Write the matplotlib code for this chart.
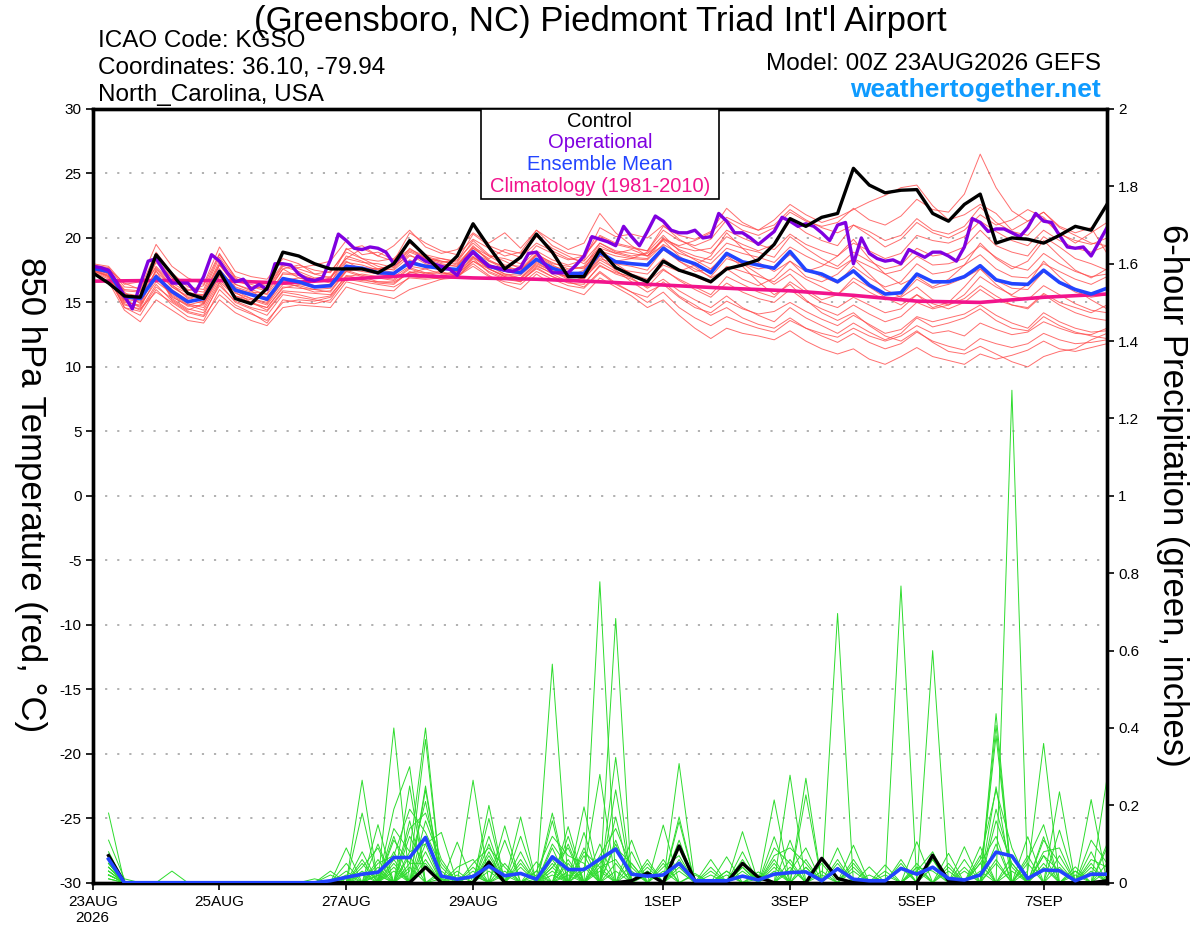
import matplotlib
matplotlib.use('Agg')
import matplotlib.pyplot as plt
import numpy as np
from matplotlib.patches import Rectangle

plt.rcParams['font.family'] = ['Liberation Sans', 'DejaVu Sans']
plt.rcParams['axes.unicode_minus'] = False

# ---------------- time axes (hours from 00Z 23AUG2026) ----------------
hours6 = np.arange(0, 385, 6)        # 65 points, 6-hourly
hours3 = np.arange(0, 385, 3)        # 129 points, 3-hourly (operational)
precip_hours = hours6[1:]            # 6-h accumulations end at 6h ... 384h
clim_hours = np.arange(0, 385, 24)   # daily climatology points

tick_hours = [0, 48, 96, 144, 216, 264, 312, 360]
tick_labels = ['23AUG\n2026', '25AUG', '27AUG', '29AUG', '1SEP', '3SEP', '5SEP', '7SEP']
temp_ticks = [-30, -25, -20, -15, -10, -5, 0, 5, 10, 15, 20, 25, 30]
precip_ticks = [0, 0.2, 0.4, 0.6, 0.8, 1.0, 1.2, 1.4, 1.6, 1.8, 2.0]
precip_tick_labels = ['0', '0.2', '0.4', '0.6', '0.8', '1', '1.2', '1.4', '1.6', '1.8', '2']

# ---------------- 850 hPa temperature (deg C) ----------------
control_temp = [17.3, 16.5, 15.5, 15.4, 18.7, 17.2, 15.7, 15.3,
                17.4, 15.3, 14.9, 16.1, 18.9, 18.6, 18.0, 17.6,
                17.6, 17.6, 17.3, 18.0, 19.8, 18.6, 17.4, 18.6,
                21.1, 19.3, 17.6, 18.5, 20.3, 18.9, 17.0, 17.0,
                19.1, 17.7, 17.1, 16.6, 18.2, 17.5, 17.1, 16.6,
                17.6, 17.9, 18.3, 19.5, 21.5, 20.9, 21.6, 21.9,
                25.4, 24.1, 23.5, 23.7, 23.75, 21.9, 21.3, 22.6,
                23.4, 19.6, 20.0, 19.9, 19.6, 20.2, 20.9, 20.6, 22.6]

mean_temp = [17.65, 17.4, 15.45, 15.3, 17.0, 15.85, 15.05, 15.3,
             17.4, 15.95, 15.6, 15.25, 16.85, 16.6, 16.2, 16.3,
             17.8, 17.65, 17.3, 17.25, 18.1, 17.8, 17.65, 17.55,
             18.95, 17.8, 17.5, 17.3, 18.35, 17.65, 17.25, 17.25,
             18.85, 18.15, 18.0, 17.9, 19.2, 18.4, 18.0, 17.3,
             18.8, 18.15, 17.9, 17.65, 18.95, 17.5, 17.2, 16.6,
             17.45, 16.35, 15.65, 15.75, 17.2, 16.6, 16.6, 17.0,
             17.85, 16.75, 16.45, 16.4, 17.5, 16.55, 16.0, 15.65, 16.1]

operational_temp = [17.8, 17.7, 17.5, 16.6, 15.5, 14.5, 16.4, 18.2, 18.4, 17.4,
                    16.5, 16.5, 16.5, 15.8, 17.0, 18.7, 18.2, 17.3, 16.6, 16.8,
                    16.0, 16.4, 16.0, 18.0, 18.0, 17.9, 17.2, 16.8, 16.7, 16.9,
                    18.3, 20.3, 19.8, 19.2, 19.1, 19.3, 19.2, 18.9, 18.0, 18.7,
                    17.7, 18.6, 18.2, 18.0, 17.8, 17.6, 17.1, 18.3, 18.9, 18.3,
                    17.8, 17.7, 17.5, 17.4, 17.7, 18.8, 18.9, 18.0, 17.3, 17.3,
                    17.3, 17.9, 18.6, 20.1, 19.9, 19.7, 19.4, 20.9, 20.1, 19.4,
                    20.5, 21.7, 21.3, 20.6, 20.4, 20.4, 20.6, 20.0, 20.1, 21.9,
                    21.3, 20.4, 20.4, 20.0, 19.5, 20.0, 20.5, 21.6, 21.3, 20.9,
                    21.1, 20.9, 20.4, 19.8, 21.0, 21.2, 18.0, 20.0, 18.8, 18.4,
                    18.2, 18.3, 18.0, 19.1, 18.8, 18.5, 18.9, 18.9, 18.6, 18.2,
                    19.3, 21.5, 21.2, 20.5, 20.7, 20.7, 20.4, 20.1, 20.8, 21.9,
                    21.3, 21.2, 20.2, 19.3, 19.2, 19.3, 18.6, 19.7, 20.8]

climatology_temp = [16.65, 16.7, 16.7, 16.5, 16.8, 17.1, 16.9, 16.8, 16.6,
                    16.35, 16.1, 15.9, 15.55, 15.1, 15.0, 15.4, 15.65]

temp_m01 = [17.9, 17.6, 15.8, 14.9, 17.6, 16.2, 15.4, 15.0,
            17.9, 16.4, 15.9, 15.1, 17.3, 17.2, 16.8, 16.5,
            18.6, 18.2, 17.6, 17.9, 19.0, 18.5, 18.1, 18.3,
            19.6, 18.6, 18.4, 18.0, 19.4, 18.8, 18.3, 18.6,
            20.1, 19.5, 19.2, 19.0, 20.6, 19.8, 19.4, 19.9,
            21.4, 20.6, 20.2, 20.8, 22.0, 21.3, 20.9, 21.2,
            22.3, 21.4, 21.0, 21.7, 23.0, 22.2, 22.0, 23.4,
            26.5, 23.9, 22.1, 21.3, 22.0, 20.8, 20.2, 19.6, 19.4]
temp_m02 = [17.7, 17.2, 15.2, 15.6, 18.1, 16.9, 16.0, 15.8,
            18.5, 16.8, 16.2, 15.9, 17.6, 17.9, 17.5, 17.3,
            19.1, 19.4, 18.6, 18.2, 20.4, 19.6, 19.0, 18.7,
            19.9, 19.2, 18.6, 18.9, 20.6, 19.4, 18.8, 18.6,
            20.2, 19.6, 19.3, 19.0, 20.9, 20.2, 19.9, 20.5,
            22.3, 21.2, 20.6, 21.4, 22.6, 21.8, 21.2, 21.6,
            22.2, 22.8, 23.3, 23.9, 24.1, 22.5, 21.4, 21.8,
            22.6, 21.9, 20.6, 21.3, 22.0, 20.9, 20.4, 20.8, 18.8]
temp_m03 = [17.8, 17.5, 16.0, 15.9, 17.7, 16.3, 15.7, 15.6,
            18.2, 16.6, 16.4, 16.0, 17.8, 17.4, 16.9, 17.0,
            18.4, 18.1, 18.0, 17.7, 19.2, 18.4, 18.2, 18.0,
            19.3, 18.6, 17.9, 17.8, 19.0, 18.3, 17.9, 18.3,
            20.8, 20.1, 20.3, 20.0, 21.0, 19.9, 19.2, 18.8,
            20.1, 19.5, 19.0, 19.5, 21.3, 20.4, 19.8, 19.4,
            21.0, 20.5, 19.8, 20.2, 21.5, 20.6, 20.3, 20.9,
            22.4, 21.2, 20.5, 20.2, 21.5, 20.3, 19.8, 19.5, 20.0]
temp_m04 = [17.6, 17.0, 15.4, 15.1, 18.3, 16.4, 15.3, 15.6,
            18.0, 16.2, 15.8, 15.7, 17.6, 16.9, 16.7, 16.8,
            19.2, 18.4, 17.8, 17.5, 18.6, 18.3, 18.4, 18.1,
            19.8, 18.7, 18.2, 17.6, 18.8, 18.0, 17.8, 17.6,
            19.4, 18.8, 18.5, 18.4, 19.9, 19.1, 18.6, 18.3,
            19.6, 19.2, 18.9, 18.5, 20.1, 19.2, 18.4, 17.8,
            18.9, 18.2, 17.6, 17.9, 19.2, 18.6, 18.8, 19.3,
            20.6, 19.4, 18.9, 18.6, 20.1, 19.3, 18.4, 18.0, 17.5]
temp_m05 = [17.5, 17.3, 15.0, 14.8, 16.6, 15.7, 14.9, 14.6,
            16.8, 15.5, 15.2, 14.8, 16.4, 16.3, 16.0, 16.1,
            17.6, 17.4, 17.2, 17.0, 17.8, 17.6, 17.2, 17.4,
            18.8, 17.9, 17.2, 17.1, 18.2, 17.5, 16.9, 17.0,
            18.4, 18.0, 17.8, 17.5, 19.1, 18.2, 17.6, 17.0,
            18.4, 18.0, 17.6, 17.8, 18.7, 17.6, 17.0, 16.5,
            17.8, 16.9, 16.2, 16.6, 18.0, 17.2, 17.4, 17.9,
            18.7, 17.6, 17.0, 16.9, 18.0, 17.4, 16.8, 16.4, 17.0]
temp_m06 = [17.4, 17.1, 14.6, 14.3, 16.2, 15.3, 14.5, 14.2,
            16.3, 15.1, 14.6, 14.3, 15.8, 15.6, 15.3, 15.5,
            17.1, 16.8, 16.5, 16.4, 17.4, 17.0, 16.8, 16.9,
            18.4, 17.3, 16.8, 16.6, 17.7, 17.0, 16.5, 16.4,
            17.9, 17.2, 16.8, 16.2, 17.5, 16.8, 16.2, 15.6,
            17.0, 16.4, 15.8, 15.4, 16.6, 15.8, 15.0, 14.6,
            15.4, 14.8, 14.2, 14.5, 15.6, 14.9, 14.5, 15.0,
            16.0, 15.2, 14.8, 14.6, 15.7, 15.0, 14.6, 14.2, 14.8]
temp_m07 = [17.6, 17.4, 15.6, 15.2, 17.1, 16.0, 15.2, 14.9,
            17.1, 15.8, 15.0, 14.6, 16.2, 16.1, 16.0, 15.8,
            17.4, 17.7, 17.6, 17.3, 18.0, 17.9, 17.8, 17.5,
            18.6, 17.6, 17.0, 16.8, 17.9, 17.2, 16.6, 16.2,
            17.4, 16.5, 15.8, 15.0, 15.8, 14.6, 13.8, 13.2,
            13.9, 13.4, 13.0, 12.7, 13.6, 13.0, 12.6, 12.3,
            13.0, 12.4, 12.0, 12.4, 13.2, 12.6, 12.8, 12.4,
            13.4, 12.9, 12.5, 12.7, 13.5, 13.0, 12.6, 12.5, 13.0]
temp_m08 = [17.4, 16.8, 14.8, 14.5, 15.8, 15.0, 14.2, 13.9,
            15.6, 14.6, 14.1, 13.6, 15.0, 15.2, 15.1, 15.4,
            16.8, 16.6, 16.4, 16.2, 16.9, 16.8, 16.9, 17.0,
            18.0, 17.1, 16.4, 16.0, 17.2, 16.4, 16.0, 15.6,
            16.9, 16.2, 15.5, 14.6, 15.2, 14.0, 13.0, 12.2,
            13.0, 12.6, 12.4, 12.1, 12.8, 12.0, 11.4, 11.0,
            11.4, 10.6, 10.2, 10.8, 11.5, 10.8, 10.5, 10.2,
            11.0, 10.6, 10.9, 11.3, 12.0, 11.4, 11.2, 11.5, 11.8]
temp_m09 = [17.7, 17.2, 15.2, 14.6, 16.9, 15.6, 14.8, 14.4,
            16.6, 15.5, 15.0, 14.4, 15.9, 15.8, 15.7, 15.6,
            17.0, 17.2, 17.0, 16.8, 17.7, 17.3, 17.0, 16.9,
            18.2, 17.4, 16.9, 16.7, 17.6, 17.0, 16.6, 16.9,
            18.1, 17.4, 16.9, 16.1, 16.8, 15.9, 15.2, 14.6,
            15.5, 14.6, 14.0, 13.5, 14.6, 13.8, 13.2, 12.6,
            13.4, 12.7, 12.1, 12.6, 13.8, 13.1, 13.4, 13.8,
            14.5, 13.6, 13.0, 12.8, 13.9, 13.2, 12.7, 12.4, 12.2]
temp_m10 = [17.8, 17.4, 15.7, 15.5, 17.4, 16.2, 15.5, 15.4,
            17.6, 16.1, 15.7, 15.4, 16.9, 16.7, 16.3, 16.4,
            17.9, 17.6, 17.2, 17.3, 18.3, 17.8, 17.5, 17.6,
            19.0, 18.0, 17.4, 17.2, 18.4, 17.7, 17.1, 16.8,
            18.3, 17.6, 17.4, 17.2, 18.4, 17.5, 17.0, 16.5,
            17.8, 17.4, 17.0, 16.6, 17.6, 16.8, 16.2, 15.6,
            16.6, 15.8, 15.2, 15.5, 16.8, 16.1, 16.4, 16.9,
            17.6, 16.7, 16.1, 16.0, 17.4, 16.5, 15.8, 15.4, 15.6]
temp_m11 = [17.9, 17.7, 16.2, 16.1, 18.9, 17.3, 16.2, 16.0,
            18.7, 17.0, 16.6, 16.3, 18.0, 17.6, 17.2, 17.4,
            18.9, 18.4, 18.2, 18.4, 19.6, 18.7, 18.4, 18.2,
            20.3, 19.4, 18.9, 18.5, 19.6, 19.0, 18.4, 18.2,
            19.6, 19.0, 18.8, 18.6, 20.0, 19.3, 19.0, 19.2,
            20.6, 20.0, 19.5, 19.1, 20.3, 19.5, 19.0, 18.6,
            19.6, 19.0, 18.4, 18.8, 20.2, 19.8, 19.6, 20.1,
            21.3, 20.5, 19.8, 19.4, 20.6, 19.8, 19.2, 18.9, 19.4]
temp_m12 = [17.5, 17.0, 14.9, 14.4, 16.4, 15.1, 14.3, 14.0,
            16.5, 15.0, 14.5, 14.0, 15.6, 15.4, 15.2, 15.0,
            16.6, 16.3, 16.0, 15.9, 17.0, 16.9, 17.1, 17.3,
            18.5, 17.8, 17.2, 16.9, 18.0, 17.4, 17.0, 17.3,
            18.6, 17.5, 16.6, 15.8, 16.4, 15.4, 14.6, 14.2,
            15.1, 14.5, 14.1, 14.3, 15.0, 14.3, 13.7, 13.2,
            14.0, 13.3, 12.6, 12.9, 13.9, 13.5, 13.8, 14.1,
            14.8, 14.0, 13.4, 13.0, 14.2, 13.5, 13.0, 12.7, 12.8]
temp_m13 = [17.6, 17.3, 15.3, 15.0, 17.2, 15.4, 14.8, 15.1,
            17.6, 15.7, 15.3, 14.9, 16.7, 16.9, 16.6, 16.9,
            18.2, 17.5, 17.6, 17.8, 18.7, 18.0, 17.6, 17.4,
            18.9, 18.2, 17.8, 17.5, 18.6, 17.8, 17.5, 17.8,
            19.6, 18.9, 18.6, 18.8, 19.8, 18.6, 17.8, 16.9,
            17.6, 16.8, 16.3, 16.9, 18.2, 17.0, 16.6, 17.2,
            18.4, 17.2, 16.0, 15.4, 16.2, 15.2, 14.8, 15.6,
            17.0, 16.2, 15.6, 16.4, 18.2, 17.0, 16.0, 15.2, 14.5]
temp_m14 = [17.7, 17.5, 15.6, 15.3, 17.0, 15.5, 14.7, 14.8,
            17.0, 15.9, 15.3, 15.0, 16.6, 16.2, 15.8, 15.9,
            17.5, 17.1, 16.9, 16.7, 17.6, 17.2, 17.3, 17.1,
            18.5, 17.6, 17.1, 16.9, 18.1, 17.4, 16.8, 16.5,
            17.8, 17.3, 17.0, 16.6, 17.6, 16.7, 16.0, 15.4,
            16.5, 15.8, 15.3, 15.0, 16.0, 15.1, 14.5, 14.0,
            14.8, 14.1, 13.5, 13.9, 15.0, 14.5, 14.8, 15.3,
            16.3, 15.5, 14.8, 14.5, 15.6, 14.8, 14.2, 13.8, 13.6]
temp_m15 = [17.8, 17.5, 15.9, 15.8, 17.8, 16.5, 15.8, 15.5,
            17.9, 16.4, 16.0, 15.6, 17.2, 17.1, 16.8, 16.6,
            18.1, 17.9, 17.5, 17.6, 18.9, 18.4, 18.0, 17.8,
            19.2, 18.3, 17.7, 17.5, 18.7, 18.1, 17.6, 17.7,
            19.0, 18.6, 18.4, 18.3, 19.5, 18.8, 18.4, 18.0,
            19.2, 18.8, 18.5, 18.1, 19.3, 18.6, 18.0, 17.6,
            18.4, 17.8, 17.2, 17.5, 18.6, 17.9, 18.0, 18.4,
            19.4, 18.5, 17.8, 17.5, 18.8, 18.0, 17.4, 17.0, 17.2]
temp_m16 = [17.5, 16.9, 14.6, 14.0, 16.0, 14.8, 13.9, 13.6,
            16.0, 14.8, 14.2, 13.4, 15.2, 15.0, 14.9, 15.2,
            16.9, 16.7, 16.6, 16.5, 17.3, 17.3, 17.4, 17.0,
            17.8, 17.0, 16.6, 16.4, 17.4, 16.8, 16.3, 16.1,
            17.3, 16.4, 15.8, 15.4, 16.6, 15.5, 14.8, 14.0,
            14.6, 13.8, 13.3, 13.0, 13.8, 13.0, 12.4, 11.9,
            12.6, 11.9, 11.4, 11.8, 12.7, 12.0, 11.6, 11.3,
            12.2, 11.8, 11.5, 11.8, 12.6, 12.1, 11.8, 11.9, 12.1]
temp_m17 = [18.0, 17.8, 16.4, 16.6, 19.5, 17.8, 16.9, 16.4,
            19.3, 17.4, 17.0, 16.8, 18.4, 18.0, 17.2, 16.9,
            18.4, 19.2, 18.6, 19.4, 20.6, 19.3, 18.8, 19.1,
            20.4, 19.6, 20.4, 19.2, 20.6, 19.8, 19.1, 19.6,
            21.9, 20.4, 19.4, 18.6, 19.4, 18.2, 17.4, 17.6,
            18.8, 18.0, 17.2, 16.4, 17.2, 16.0, 15.2, 15.6,
            16.9, 16.2, 15.4, 14.8, 15.6, 14.6, 15.0, 16.2,
            17.6, 16.4, 15.5, 15.2, 16.3, 15.6, 14.9, 14.4, 14.2]
temp_m18 = [17.3, 16.6, 14.4, 13.5, 15.2, 14.4, 13.6, 13.4,
            15.2, 14.2, 13.6, 13.2, 14.6, 14.8, 14.7, 14.6,
            16.2, 15.8, 15.6, 15.3, 16.0, 16.4, 16.8, 17.2,
            18.2, 17.6, 17.0, 16.6, 17.8, 17.3, 17.0, 17.5,
            19.2, 18.8, 19.1, 18.6, 19.9, 19.4, 19.8, 20.4,
            21.6, 21.0, 20.6, 21.0, 22.2, 21.4, 20.8, 20.4,
            21.0, 20.2, 19.3, 19.9, 21.2, 20.4, 20.0, 20.6,
            21.8, 21.0, 21.4, 22.2, 21.6, 20.4, 19.6, 20.4, 21.2]
temp_m19 = [17.6, 17.1, 15.1, 14.7, 17.5, 15.2, 14.4, 14.9,
            17.2, 15.3, 14.9, 14.6, 16.1, 16.4, 16.2, 16.2,
            17.4, 17.0, 16.6, 16.6, 17.3, 17.6, 17.9, 17.8,
            19.4, 18.2, 17.6, 17.4, 18.7, 17.9, 17.3, 16.9,
            18.6, 18.2, 18.4, 18.9, 20.2, 19.0, 18.3, 17.6,
            18.6, 17.8, 16.6, 15.6, 16.4, 15.2, 14.2, 13.6,
            14.2, 13.2, 12.4, 12.0, 12.8, 11.9, 11.2, 11.0,
            11.6, 11.0, 10.4, 10.0, 10.8, 11.2, 11.4, 12.1, 12.6]
temp_m20 = [17.9, 17.6, 16.5, 16.0, 18.4, 16.9, 15.9, 16.3,
            18.8, 16.9, 16.2, 16.1, 17.9, 17.7, 17.9, 18.2,
            19.8, 18.7, 18.9, 18.3, 19.1, 18.6, 18.2, 17.9,
            19.2, 18.4, 19.1, 18.8, 20.1, 19.2, 18.6, 18.0,
            19.2, 18.0, 17.2, 16.8, 17.9, 17.4, 17.9, 18.6,
            20.4, 19.2, 18.1, 17.4, 18.2, 17.4, 17.8, 18.6,
            19.9, 18.4, 17.2, 16.4, 17.0, 16.2, 16.8, 17.9,
            19.6, 18.4, 17.6, 18.2, 19.8, 18.6, 17.5, 16.9, 17.6]

# ---------------- 6-hour precipitation (inches), 6h .. 384h ----------------
control_precip = [.07, 0, 0, 0, 0, 0, 0, 0,
                  0, 0, 0, 0, 0, 0, 0, 0,
                  0, 0, 0, 0, .04, 0, 0, 0,
                  .053, 0, 0, 0, 0, 0, 0, 0,
                  0, .005, .025, 0, .095, .005, 0, 0,
                  .05, .014, 0, 0, 0, .063, .011, 0,
                  0, 0, 0, 0, .071, .005, 0, 0,
                  0, 0, 0, 0, 0, 0, 0, .005]
mean_precip = [.061, 0, 0, 0, 0, 0, 0, 0,
               0, 0, 0, 0, 0, 0, .005, .014,
               .022, .027, .065, .065, .117, .017, .009, .016,
               .043, .018, .024, .009, .067, .034, .034, .061,
               .087, .022, .017, .02, .05, .005, .005, .005,
               .017, .007, .022, .026, .028, .005, .036, .009,
               .005, .005, .037, .022, .04, .011, .007, .02,
               .079, .069, .011, .033, .031, .005, .022, .022]

precip_m01 = [.18, 0, 0, 0, 0, 0, 0, 0,
              0, 0, 0, 0, 0, 0, 0, 0,
              .02, 0, .06, 0, .16, .05, 0, 0,
              .08, 0, 0, .01, 0, .12, 0, .10,
              0, .05, 0, 0, .17, 0, 0, 0,
              0, .01, 0, 0, .227, 0, 0, 0,
              0, 0, 0, .05, 0, 0, 0, 0,
              .437, 0, 0, 0, .07, 0, 0, 0]
precip_m02 = [.11, .01, 0, 0, 0, 0, 0, 0,
              0, 0, 0, 0, 0, 0, 0, 0,
              .08, 0, .03, 0, .08, 0, 0, .04,
              0, .02, 0, 0, .18, 0, .04, 0,
              .683, 0, 0, .03, 0, 0, 0, .03,
              0, 0, .04, 0, 0, 0, 0, .097,
              0, 0, 0, 0, 0, .05, 0, 0,
              .05, 0, 0, .07, 0, 0, 0, .10]
precip_m03 = [.08, 0, 0, 0, 0, 0, 0, 0,
              0, 0, 0, 0, 0, 0, .03, 0,
              0, .03, 0, .08, .40, 0, 0, 0,
              .03, 0, 0, .054, 0, .02, 0, 0,
              .05, 0, 0, .06, 0, 0, 0, 0,
              .05, 0, 0, 0, 0, .03, 0, 0,
              0, 0, .767, 0, 0, 0, 0, .05,
              0, 0, .07, 0, 0, 0, .03, 0]
precip_m04 = [.07, 0, 0, 0, 0, 0, 0, 0,
              0, 0, 0, 0, 0, 0, 0, .09,
              0, .15, 0, .04, 0, .02, 0, 0,
              .10, 0, 0, 0, .05, 0, .196, 0,
              0, 0, .05, 0, 0, 0, .06, 0,
              0, 0, 0, .11, 0, 0, 0, 0,
              .02, 0, 0, 0, 0, 0, .093, 0,
              0, .07, 0, 0, 0, .02, 0, 0]
precip_m05 = [.06, 0, 0, 0, .03, 0, 0, 0,
              0, 0, 0, 0, 0, 0, 0, 0,
              0, 0, .19, .30, 0, 0, .02, 0,
              0, .11, 0, 0, 0, .05, 0, 0,
              .24, 0, 0, 0, .03, 0, 0, 0,
              0, 0, .214, 0, 0, 0, 0, .05,
              0, 0, 0, 0, .06, 0, 0, 0,
              .248, 0, 0, 0, .235, 0, 0, 0]
precip_m06 = [.05, 0, 0, 0, 0, 0, 0, 0,
              0, 0, 0, 0, 0, 0, 0, 0,
              .265, 0, .12, 0, .12, 0, .105, 0,
              0, 0, .05, 0, .04, 0, .03, .28,
              0, 0, .02, 0, .308, 0, 0, 0,
              .03, 0, 0, 0, .04, 0, 0, 0,
              0, .046, 0, 0, 0, 0, .03, 0,
              0, .03, 0, .119, 0, 0, 0, 0]
precip_m07 = [.04, 0, 0, 0, 0, 0, 0, 0,
              0, 0, 0, 0, 0, .01, 0, 0,
              0, .02, 0, .25, 0, 0, 0, 0,
              .166, 0, 0, 0, 0, .10, 0, 0,
              0, .11, 0, 0, 0, .02, 0, 0,
              0, 0, .05, 0, 0, 0, .06, 0,
              0, 0, 0, .03, 0, 0, 0, .093,
              0, 0, 0, .04, 0, 0, 0, .27]
precip_m08 = [.03, 0, 0, 0, 0, 0, 0, 0,
              0, 0, 0, 0, 0, 0, 0, 0,
              .05, 0, .05, 0, .25, 0, 0, .03,
              0, 0, .04, 0, .565, 0, 0, .03,
              0, 0, .03, 0, 0, 0, .02, 0,
              0, 0, 0, .278, 0, 0, 0, 0,
              0, 0, .04, 0, 0, 0, 0, 0,
              .407, 0, 0, 0, 0, .03, 0, 0]
precip_m09 = [.03, 0, 0, 0, 0, 0, 0, 0,
              0, 0, 0, 0, 0, 0, .02, 0,
              0, .06, 0, .16, 0, .03, 0, 0,
              0, .147, 0, 0, .02, 0, .07, 0,
              .324, 0, 0, 0, .06, 0, 0, 0,
              0, .028, 0, 0, 0, .02, 0, 0,
              0, 0, 0, .106, 0, 0, 0, .03,
              0, 0, .03, .36, 0, 0, 0, 0]
precip_m10 = [.02, 0, 0, 0, 0, 0, 0, 0,
              0, 0, 0, 0, 0, 0, 0, .05,
              0, .02, 0, .03, .37, 0, 0, 0,
              .06, 0, 0, .02, 0, .145, 0, 0,
              .10, 0, 0, .05, 0, 0, 0, 0,
              .132, 0, 0, 0, .06, 0, 0, 0,
              0, .02, 0, 0, 0, 0, .06, 0,
              0, 1.273, 0, 0, 0, 0, .05, 0]
precip_m11 = [.02, 0, 0, 0, 0, 0, 0, 0,
              0, 0, 0, 0, 0, 0, 0, 0,
              .18, 0, 0, .12, .04, 0, 0, .02,
              0, 0, .17, 0, 0, .03, 0, .06,
              0, 0, .06, 0, 0, 0, 0, .02,
              0, 0, .03, 0, 0, 0, .696, 0,
              0, 0, 0, 0, .04, 0, 0, 0,
              .10, 0, 0, 0, .136, 0, 0, 0]
precip_m12 = [.01, 0, 0, 0, 0, 0, 0, 0,
              0, 0, 0, 0, 0, 0, 0, .03,
              0, 0, .40, 0, .06, 0, .03, 0,
              0, .03, 0, 0, .06, 0, .13, 0,
              0, .08, 0, 0, .158, 0, 0, 0,
              0, .02, 0, 0, .27, 0, 0, 0,
              0, 0, .06, 0, 0, 0, 0, .07,
              0, 0, .05, 0, 0, 0, .215, 0]
precip_m13 = [.05, 0, 0, 0, 0, 0, 0, 0,
              0, 0, 0, 0, 0, 0, 0, 0,
              0, .10, 0, .07, 0, .01, 0, 0,
              .20, 0, 0, 0, .03, 0, 0, .04,
              0, 0, .04, 0, 0, .024, 0, 0,
              0, 0, .119, 0, 0, 0, .04, 0,
              0, 0, 0, 0, .60, 0, 0, 0,
              .06, 0, 0, 0, .04, 0, 0, .05]
precip_m14 = [.04, 0, 0, 0, 0, 0, 0, 0,
              0, 0, 0, 0, 0, 0, 0, .02,
              0, 0, .08, 0, .24, 0, 0, .02,
              0, 0, .12, 0, 0, .06, 0, .778,
              0, .03, 0, 0, 0, 0, .03, 0,
              0, 0, 0, .06, 0, 0, 0, .03,
              0, 0, 0, 0, 0, .076, 0, 0,
              0, .05, 0, 0, 0, .041, 0, 0]
precip_m15 = [.02, 0, 0, 0, 0, 0, 0, 0,
              0, 0, 0, 0, 0, 0, 0, 0,
              .03, 0, .04, 0, .10, .13, 0, 0,
              .04, 0, 0, 0, .16, 0, 0, 0,
              .17, 0, 0, 0, .04, 0, 0, .067,
              0, 0, 0, 0, 0, .05, 0, 0,
              0, 0, 0, .04, 0, 0, 0, 0,
              .38, 0, 0, .05, 0, 0, 0, .03]
precip_m16 = [.01, 0, 0, 0, 0, 0, 0, 0,
              0, 0, 0, 0, 0, 0, 0, 0,
              0, .04, 0, .05, .05, 0, 0, .265,
              0, 0, 0, .03, 0, 0, .09, 0,
              .03, 0, 0, .149, 0, 0, 0, 0,
              .04, 0, 0, .04, 0, 0, 0, 0,
              .041, 0, 0, 0, 0, .03, 0, 0,
              0, 0, .119, 0, 0, 0, .08, 0]
precip_m17 = [.03, 0, 0, 0, 0, 0, 0, 0,
              0, 0, 0, 0, 0, 0, 0, 0,
              .04, .09, 0, .14, .18, .06, 0, 0,
              .12, 0, .06, 0, .10, .04, 0, .07,
              .14, .04, 0, 0, .09, 0, 0, 0,
              .06, 0, 0, .03, .09, 0, .05, 0,
              0, 0, 0, .03, .08, 0, 0, 0,
              .16, .05, 0, .11, .05, 0, .06, .04]
precip_m18 = [.02, 0, 0, 0, 0, 0, 0, 0,
              0, 0, 0, 0, 0, 0, 0, .01,
              0, 0, .11, .05, .21, 0, .04, .06,
              0, .05, 0, 0, .09, 0, .08, .04,
              .06, 0, 0, .04, .07, 0, 0, .03,
              0, 0, .09, .05, 0, 0, 0, .04,
              0, 0, .05, 0, 0, .04, 0, .05,
              .12, 0, .06, .15, 0, .03, 0, .09]
precip_m19 = [.05, 0, 0, 0, 0, 0, 0, 0,
              0, 0, 0, 0, 0, 0, 0, 0,
              .06, 0, .14, .08, .10, 0, 0, .05,
              .09, .04, 0, .03, .12, .07, .05, 0,
              .11, 0, .03, 0, .05, 0, .04, 0,
              .08, 0, .06, 0, .04, 0, .09, 0,
              0, .03, 0, 0, .06, 0, .04, 0,
              .19, .04, 0, .08, .09, 0, .04, 0]
precip_m20 = [.04, 0, 0, 0, 0, 0, 0, 0,
              0, 0, 0, 0, 0, 0, 0, 0,
              0, .05, .07, .19, .13, .04, 0, 0,
              .07, 0, .08, 0, .04, .09, 0, .05,
              .09, .05, 0, 0, .11, 0, 0, 0,
              .04, 0, .07, .09, .05, 0, 0, .06,
              0, 0, 0, .04, .03, 0, 0, .06,
              .24, .09, 0, .07, .03, 0, .11, .05]

temp_members = [temp_m01, temp_m02, temp_m03, temp_m04, temp_m05, temp_m06, temp_m07,
                temp_m08, temp_m09, temp_m10, temp_m11, temp_m12, temp_m13, temp_m14,
                temp_m15, temp_m16, temp_m17, temp_m18, temp_m19, temp_m20]
precip_members = [precip_m01, precip_m02, precip_m03, precip_m04, precip_m05, precip_m06,
                  precip_m07, precip_m08, precip_m09, precip_m10, precip_m11, precip_m12,
                  precip_m13, precip_m14, precip_m15, precip_m16, precip_m17, precip_m18,
                  precip_m19, precip_m20]

for k, m in enumerate(temp_members):
    assert len(m) == len(hours6), ('temp member', k + 1, len(m))
for k, m in enumerate(precip_members):
    assert len(m) == len(precip_hours), ('precip member', k + 1, len(m))
assert len(control_temp) == 65 and len(mean_temp) == 65, (len(control_temp), len(mean_temp))
assert len(operational_temp) == len(hours3), len(operational_temp)
assert len(control_precip) == 64 and len(mean_precip) == 64, (len(control_precip), len(mean_precip))

# ---------------- styles ----------------
C_MEMBER_T = '#ff4a4a'
C_MEMBER_P = '#2ddc2d'
C_CONTROL = '#000000'
C_OPER = '#8000e0'
C_MEAN = '#2244ff'
C_CLIM = '#f2148c'
C_SITE = '#0f9bff'

W, H = 1200, 927
fig = plt.figure(figsize=(W / 100, H / 100), dpi=100)
ax = fig.add_axes([92.7 / W, 1 - 882.7 / H, (1107 - 92.7) / W, (882.7 - 109) / H])
ax2 = ax.twinx()

# temperature
for m in temp_members:
    ax.plot(hours6, m, color=C_MEMBER_T, lw=0.7, alpha=0.8, zorder=2)
ax.plot(clim_hours, climatology_temp, color=C_CLIM, lw=2.6, zorder=4)
ax.plot(hours6, mean_temp, color=C_MEAN, lw=2.6, zorder=5)
ax.plot(hours3, operational_temp, color=C_OPER, lw=2.4, zorder=6)
ax.plot(hours6, control_temp, color=C_CONTROL, lw=2.4, zorder=7)

ax.set_xlim(0, 384)
ax.set_ylim(-30, 30)
ax.set_yticks(temp_ticks)
ax.set_yticklabels([str(t) for t in temp_ticks])
ax.set_xticks(tick_hours)
ax.set_xticklabels(tick_labels)
ax.yaxis.grid(True, color='#aaaaaa', lw=1.3, ls=(0, (1.2, 5.5)))
ax.xaxis.grid(False)

# precipitation
for m in precip_members:
    ax2.plot(precip_hours, m, color=C_MEMBER_P, lw=0.7, zorder=2)
ax2.plot(precip_hours, mean_precip, color=C_MEAN, lw=2.6, zorder=5)
ax2.plot(precip_hours, control_precip, color=C_CONTROL, lw=2.4, zorder=4)
ax2.set_ylim(0, 2)
ax2.set_yticks(precip_ticks)
ax2.set_yticklabels(precip_tick_labels)

for a in (ax, ax2):
    for s in a.spines.values():
        s.set_linewidth(2.4)
    a.tick_params(axis='y', direction='out', length=5, width=1.2, labelsize=11, pad=3)
ax.tick_params(axis='x', direction='out', length=5, width=1.2, labelsize=11, pad=4)

# axis titles
fig.text(30 / W, 1 - 495 / H, '850 hPa Temperature (red, \u00b0C)', rotation=270,
         ha='center', va='center', fontsize=25)
fig.text(1172 / W, 1 - 495 / H, '6-hour Precipitation (green, inches)', rotation=270,
         ha='center', va='center', fontsize=25)

# header
fig.text(0.5, 1 - 21 / H, "(Greensboro, NC) Piedmont Triad Int'l Airport",
         ha='center', va='center', fontsize=25)
fig.text(98 / W, 1 - 41 / H, 'ICAO Code: KGSO', ha='left', va='center', fontsize=17.5)
fig.text(98 / W, 1 - 68 / H, 'Coordinates: 36.10, -79.94', ha='left', va='center', fontsize=17.5)
fig.text(98 / W, 1 - 95 / H, 'North_Carolina, USA', ha='left', va='center', fontsize=17.5)
fig.text(1101 / W, 1 - 64 / H, 'Model: 00Z 23AUG2026 GEFS', ha='right', va='center', fontsize=17.5)
fig.text(1101 / W, 1 - 90 / H, 'weathertogether.net', ha='right', va='center',
         fontsize=19, fontweight='bold', color=C_SITE)

# legend box
box = Rectangle((480.7 / W, 1 - 199 / H), (719.3 - 480.7) / W, (199 - 109) / H,
                transform=fig.transFigure, facecolor='white', edgecolor='black', lw=1.2, zorder=20)
fig.patches.append(box)
legend_items = [('Control', C_CONTROL, 121.5), ('Operational', C_OPER, 143.0),
                ('Ensemble Mean', C_MEAN, 164.5), ('Climatology (1981-2010)', C_CLIM, 186.5)]
for label, col, yy in legend_items:
    fig.text(600 / W, 1 - yy / H, label, color=col, ha='center', va='center',
             fontsize=14.5, zorder=21)

fig.savefig('out.png', dpi=100)
